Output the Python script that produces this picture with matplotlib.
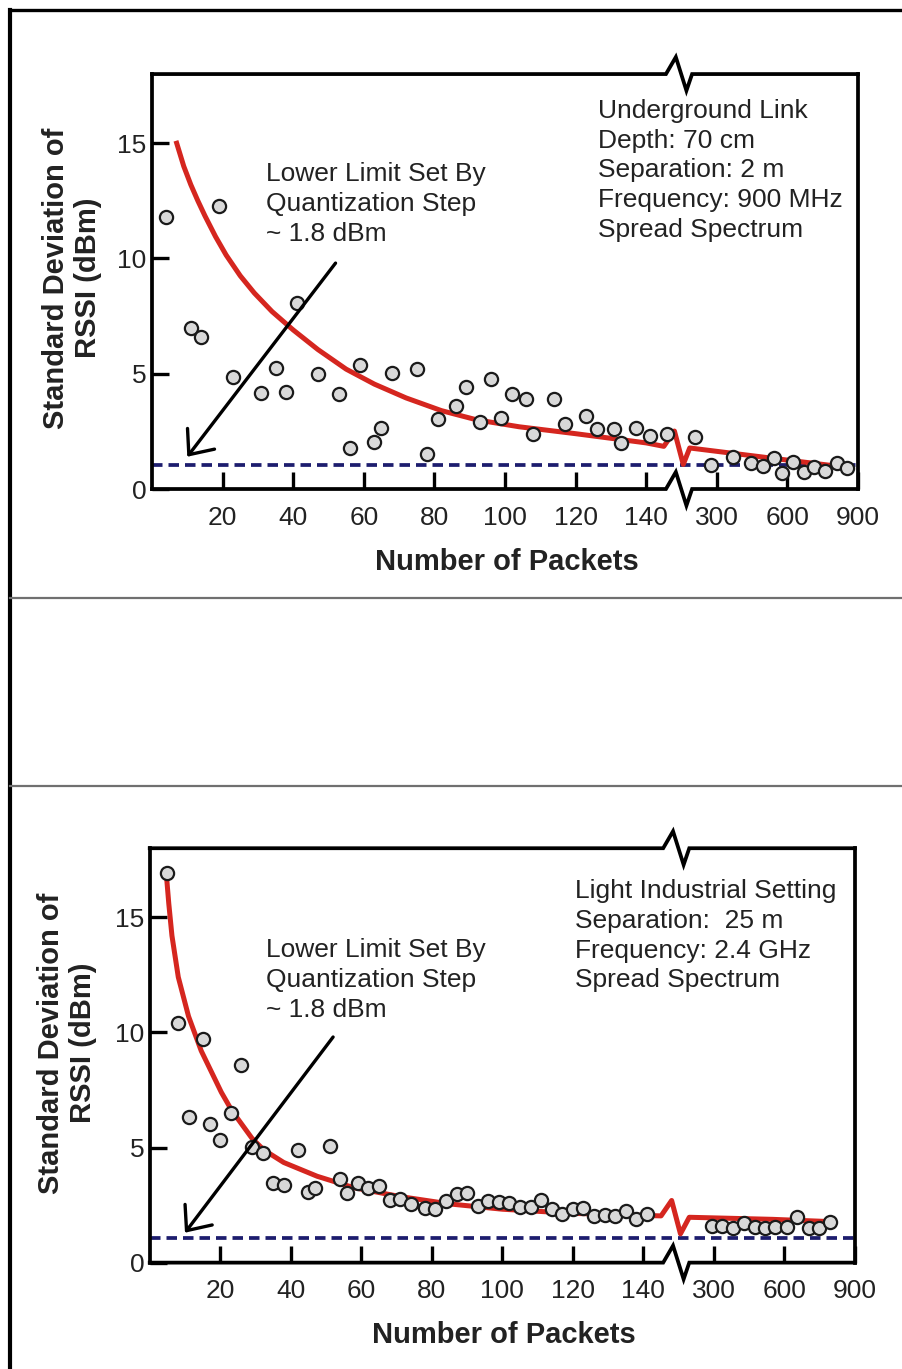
import numpy as np
import matplotlib.pyplot as plt
from matplotlib.lines import Line2D

plt.rcParams['font.family'] = ['Liberation Sans', 'DejaVu Sans']

# underground link, 900 MHz
ug_packets = [4, 11, 14, 19, 23, 31, 35, 38, 41, 47, 53, 56, 59, 63, 65, 68,
              75, 78, 81, 86, 89, 93, 96, 99, 102, 106, 108, 114, 117, 123,
              126, 131, 133, 137, 141, 146,
              207, 277, 370, 444, 495, 544, 576, 622, 672, 714, 759, 810, 852]
ug_std = [11.78, 6.99, 6.60, 12.29, 4.87, 4.18, 5.23, 4.22, 8.08, 4.97, 4.12,
          1.79, 5.38, 2.03, 2.63, 5.02, 5.19, 1.50, 3.02, 3.61, 4.44, 2.89,
          4.77, 3.07, 4.12, 3.89, 2.39, 3.90, 2.81, 3.17, 2.60, 2.59, 1.98,
          2.63, 2.30, 2.37,
          2.24, 1.04, 1.40, 1.11, 1.00, 1.33, 0.71, 1.18, 0.75, 0.94, 0.79,
          1.14, 0.90]
ug_fit_x = [7, 9, 11, 13, 15, 18, 21, 25, 29, 34, 40, 47, 55, 63, 72, 82, 92,
            104, 120, 140, 145]
ug_fit_y = [15.0, 14.0, 13.2, 12.5, 11.85, 10.95, 10.15, 9.25, 8.5, 7.7, 6.9,
            6.05, 5.2, 4.55, 3.95, 3.4, 3.0, 2.7, 2.4, 2.0, 1.85]
ug_tail_x = [185, 540, 836]
ug_tail_y = [1.78, 1.33, 0.96]

# light industrial, 2.4 GHz
ind_packets = [5, 8, 11, 15, 17, 20, 23, 26, 29, 32, 35, 38, 42, 45, 47, 51,
               54, 56, 59, 62, 65, 68, 71, 74, 78, 81, 84, 87, 90, 93, 96, 99,
               102, 105, 108, 111, 114, 117, 120, 123, 126, 129, 132, 135,
               138, 141,
               291, 333, 381, 426, 473, 516, 561, 611, 654, 704, 747, 792]
ind_std = [16.94, 10.43, 6.32, 9.72, 6.03, 5.33, 6.49, 8.59, 5.04, 4.78, 3.48,
           3.38, 4.90, 3.08, 3.23, 5.07, 3.62, 3.01, 3.45, 3.23, 3.33, 2.72,
           2.75, 2.55, 2.39, 2.32, 2.69, 2.97, 3.04, 2.48, 2.68, 2.62, 2.61,
           2.41, 2.43, 2.72, 2.32, 2.10, 2.32, 2.39, 2.03, 2.06, 2.04, 2.25,
           1.90, 2.10,
           1.58, 1.58, 1.52, 1.71, 1.54, 1.49, 1.56, 1.56, 1.97, 1.49, 1.49,
           1.78]
ind_fit_x = [4.8, 5.4, 6.3, 8.1, 11, 14.6, 20.3, 23.3, 29, 32.3, 38, 47.5, 58,
             71, 85, 100, 120, 145]
ind_fit_y = [16.7, 15.6, 14.2, 12.4, 10.7, 9.2, 7.4, 6.6, 5.4, 4.9, 4.35,
             3.75, 3.25, 2.87, 2.55, 2.32, 2.14, 2.03]
ind_tail_x = [195, 550, 800]
ind_tail_y = [1.97, 1.88, 1.78]

quant_floor = 1.05
xticks = [20, 40, 60, 80, 100, 120, 140, 300, 600, 900]
yticks = [0, 5, 10, 15]

RED = '#d5261f'
NAVY = '#1d1d6e'
INK = '#222222'


# axis is linear up to 150 packets, compressed 15x after that
def fwd(x):
    x = np.asarray(x, float)
    return np.where(x <= 150, x, 150 + (x - 150) / 15.0)


def inv(t):
    t = np.asarray(t, float)
    return np.where(t <= 150, t, 150 + (t - 150) * 15.0)


def with_break(xa, ya, xb, yb):
    # zigzag in the fit curve where the axis is broken
    lvl = (ya[-1] + yb[0]) / 2.0
    zx = [float(inv(148.0)), float(inv(150.5))]
    zy = [lvl + 0.7, lvl - 0.75]
    return np.r_[xa, zx, xb], np.r_[ya, zy, yb]


def broken_frame(ax):
    zx = [0.728, 0.742, 0.757, 0.765]
    for y0 in (0.0, 1.0):
        xs = [0.0] + zx + [1.0]
        ys = [y0, y0, y0 + 0.041, y0 - 0.04, y0, y0]
        ax.plot(xs, ys, transform=ax.transAxes, color='k', lw=2.7,
                clip_on=False, zorder=6, solid_joinstyle='miter')


def panel(ax, px, py, fx, fy, tx, ty, info, info_pos, note_pos, arrow):
    ax.set_xscale('function', functions=(fwd, inv))
    ax.set_xlim(0, 900)
    ax.set_ylim(0, 18)

    ax.axhline(quant_floor, color=NAVY, lw=2.7, dashes=(2.8, 1.6), zorder=2)
    cx, cy = with_break(fx, fy, tx, ty)
    ax.plot(cx, cy, color=RED, lw=3.6, zorder=3, solid_joinstyle='round')
    ax.plot(px, py, 'o', ms=9.5, mfc='#d9d9d9', mec='#1a1a1a', mew=1.6,
            zorder=4, clip_on=False)

    ax.annotate('', xy=arrow[1], xytext=arrow[0], zorder=5,
                arrowprops=dict(arrowstyle='->,head_length=0.4,head_width=0.34',
                                color='k', lw=2.4, mutation_scale=36,
                                shrinkA=0, shrinkB=0))
    ax.text(note_pos[0], note_pos[1],
            'Lower Limit Set By\nQuantization Step\n~ 1.8 dBm',
            transform=ax.transAxes, ha='left', va='top', fontsize=19,
            linespacing=1.3, color=INK)
    ax.text(info_pos[0], info_pos[1], info, transform=ax.transAxes,
            ha='left', va='top', fontsize=19, linespacing=1.3, color=INK)

    ax.set_xticks(xticks)
    ax.set_xticklabels([str(v) for v in xticks])
    ax.set_yticks(yticks)
    ax.minorticks_off()
    ax.tick_params(axis='both', direction='in', length=12, width=2.4,
                   labelsize=19, labelcolor=INK)
    ax.tick_params(axis='x', pad=12)
    ax.tick_params(axis='y', pad=4)
    for s in ('top', 'bottom'):
        ax.spines[s].set_visible(False)
    for s in ('left', 'right'):
        ax.spines[s].set_linewidth(2.7)
    broken_frame(ax)


fig = plt.figure(figsize=(9.02, 13.69), dpi=100)

ax1 = fig.add_axes([0.1685, 0.6428, 0.7827, 0.3031])
panel(ax1, ug_packets, ug_std, ug_fit_x, ug_fit_y, ug_tail_x, ug_tail_y,
      'Underground Link\nDepth: 70 cm\nSeparation: 2 m\n'
      'Frequency: 900 MHz\nSpread Spectrum',
      (0.632, 0.940), (0.1615, 0.787), ((52, 9.8), (10, 1.4)))

ax2 = fig.add_axes([0.166, 0.0777, 0.7819, 0.3027])
panel(ax2, ind_packets, ind_std, ind_fit_x, ind_fit_y, ind_tail_x, ind_tail_y,
      'Light Industrial Setting\nSeparation:  25 m\n'
      'Frequency: 2.4 GHz\nSpread Spectrum',
      (0.603, 0.925), (0.165, 0.783), ((52, 9.8), (10, 1.3)))

ylab = 'Standard Deviation of\nRSSI (dBm)'
fig.text(0.0798, 0.797, ylab, rotation=90, ha='center', va='center',
         multialignment='center', fontsize=21, fontweight='bold', color=INK)
fig.text(0.0742, 0.2381, ylab, rotation=90, ha='center', va='center',
         multialignment='center', fontsize=21, fontweight='bold', color=INK)
fig.text(0.562, 0.5895, 'Number of Packets', ha='center', va='center',
         fontsize=21, fontweight='bold', color=INK)
fig.text(0.5588, 0.0250, 'Number of Packets', ha='center', va='center',
         fontsize=21, fontweight='bold', color=INK)

# table-like frame around the two panels
fig.add_artist(Line2D([0.0111, 0.0111], [0.0, 0.9927], transform=fig.transFigure,
                      color='k', lw=3))
fig.add_artist(Line2D([0.0111, 1.0], [0.9927, 0.9927], transform=fig.transFigure,
                      color='k', lw=2.4))
for yf in (0.5632, 0.4259):
    fig.add_artist(Line2D([0.0111, 1.0], [yf, yf], transform=fig.transFigure,
                          color='#707070', lw=1.6))

fig.savefig('out.png', dpi=100)
